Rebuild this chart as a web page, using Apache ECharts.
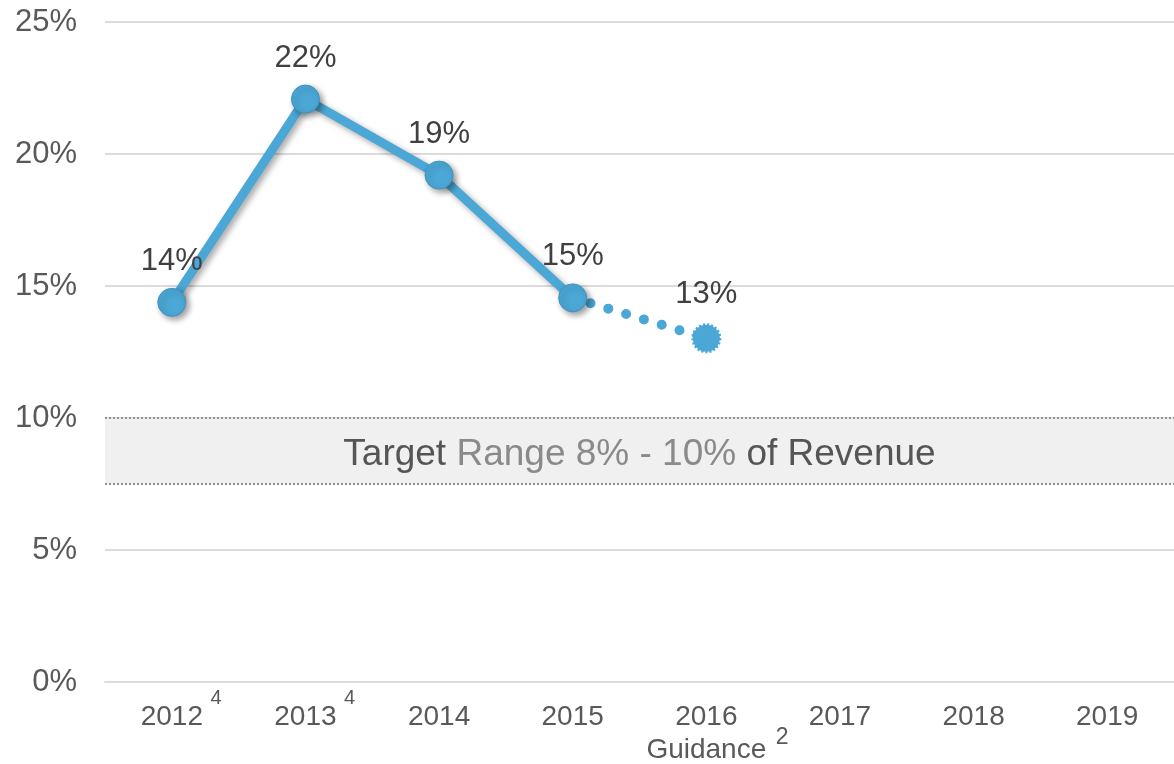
<!DOCTYPE html>
<html>
<head>
<meta charset="utf-8">
<script src="https://cdn.jsdelivr.net/npm/echarts@6/dist/echarts.min.js"></script>
<style>
html,body{margin:0;padding:0;background:#fff;}
#c{width:1174px;height:764px;}
</style>
</head>
<body>
<div id="c"></div>
<script>
var categories = ['2012', '2013', '2014', '2015', '2016', '2017', '2018', '2019'];
var footnotes = ['4', '4', '', '', '2', '', '', ''];
var subLabels = ['', '', '', '', 'Guidance', '', '', ''];
var actual = [14.38, 22.08, 19.2, 14.55, null, null, null, null];
var guidance = [null, null, null, 14.55, 13.02, null, null, null];
var yTicks = [0, 5, 10, 15, 20, 25];
var targetLow = 7.5;
var targetHigh = 10;
var targetTextParts = ['Target', 'Range 8% - 10%', 'of Revenue'];

var blue = '#4ba7d5';
var FONT = 'Liberation Sans, Arial, sans-serif';
var chart = echarts.init(document.getElementById('c'), null, {renderer: 'canvas'});

function xLabel(v, i) {
  var fn = footnotes[i];
  var sub = subLabels[i];
  if (sub) {
    return '{y|' + v + '}\n{sp2| }{g|' + sub + '}{sup2|' + fn + '}';
  }
  if (fn) {
    return '{sp| }{y|' + v + '}{sup|' + fn + '}';
  }
  return '{y|' + v + '}';
}

var option = {
  animation: false,
  grid: {left: 105, top: 22, width: 1082, height: 660},
  xAxis: {
    type: 'category',
    data: categories,
    boundaryGap: true,
    axisLine: {show: true, lineStyle: {color: '#dcdcdc', width: 2}},
    axisTick: {show: false},
    axisLabel: {
      interval: 0,
      margin: 15,
      formatter: xLabel,
      rich: {
        y: {fontFamily: FONT, fontSize: 28, color: '#595959', lineHeight: 40},
        g: {fontFamily: FONT, fontSize: 28, color: '#595959', lineHeight: 26},
        sp: {width: 20, fontSize: 10},
        sp2: {width: 24, fontSize: 10},
        sup: {fontFamily: FONT, fontSize: 20, color: '#595959', width: 14, height: 2, align: 'left', lineHeight: 2, verticalAlign: 'top', padding: [0, 0, 0, 6]},
        sup2: {fontFamily: FONT, fontSize: 23, color: '#595959', width: 16, height: 2, align: 'left', lineHeight: 2, verticalAlign: 'top', padding: [0, 0, 0, 8]}
      }
    }
  },
  yAxis: {
    type: 'value',
    min: 0, max: 25, interval: 5,
    axisLine: {show: false},
    axisTick: {show: false},
    splitLine: {lineStyle: {color: '#dcdcdc', width: 2}},
    axisLabel: {
      formatter: function (v) { return yTicks.indexOf(v) >= 0 ? v + '%' : ''; },
      fontFamily: FONT,
      fontSize: 31, color: '#595959', margin: 28
    }
  },
  series: [
    {
      type: 'line',
      data: actual,
      z: 5,
      symbol: 'circle',
      symbolSize: 28,
      lineStyle: {color: blue, width: 9, shadowColor: 'rgba(0,0,0,0.35)', shadowBlur: 6, shadowOffsetX: 3, shadowOffsetY: 3},
      itemStyle: {color: blue, borderColor: '#3f93bd', borderWidth: 1, shadowColor: 'rgba(0,0,0,0.4)', shadowBlur: 6, shadowOffsetX: 3, shadowOffsetY: 3},
      label: {show: true, position: 'top', distance: 11, fontFamily: FONT, fontSize: 31, color: '#404040',
        formatter: function (p) { return Math.round(p.value) + '%'; }},
      markArea: {
        silent: true,
        itemStyle: {color: '#f0f0f0'},
        label: {
          show: true, position: 'inside', offset: [0, 4],
          formatter: '{a|' + targetTextParts[0] + ' }{b|' + targetTextParts[1] + ' }{a|' + targetTextParts[2] + '}',
          rich: {
            a: {fontFamily: FONT, fontSize: 37, color: '#555555'},
            b: {fontFamily: FONT, fontSize: 37, color: '#8a8a8a'}
          }
        },
        data: [[{yAxis: targetLow}, {yAxis: targetHigh}]]
      },
      markLine: {
        silent: true,
        symbol: 'none',
        label: {show: false},
        lineStyle: {color: '#8f8f8f', width: 2, type: [2, 2]},
        data: [{yAxis: targetLow}, {yAxis: targetHigh}]
      }
    },
    {
      type: 'line',
      data: guidance,
      z: 4,
      symbol: function (v, p) { return p.dataIndex === 4 ? 'circle' : 'none'; },
      symbolSize: 27,
      lineStyle: {color: blue, width: 10, type: [0, 18.6], cap: 'round'},
      itemStyle: {color: blue, borderColor: blue, borderWidth: 3, borderType: [2, 2]},
      label: {show: true, position: 'top', distance: 13, fontFamily: FONT, fontSize: 31, color: '#404040',
        formatter: function (p) { return p.dataIndex === 4 ? Math.round(p.value) + '%' : ''; }}
    }
  ]
};
chart.setOption(option);
</script>
</body>
</html>
